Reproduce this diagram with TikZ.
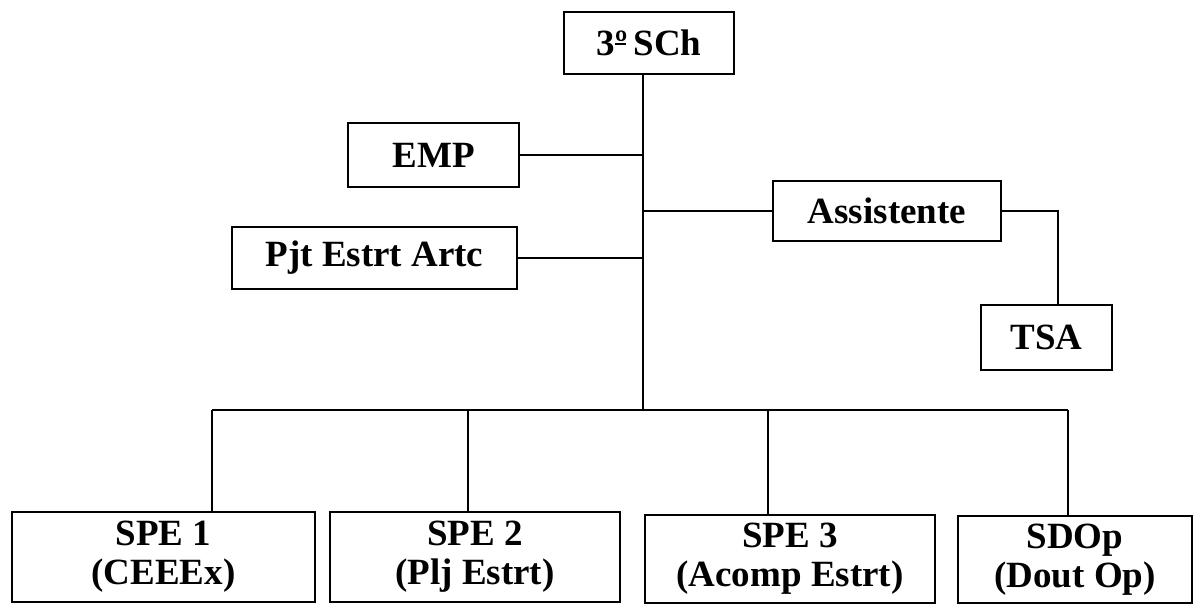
\documentclass[tikz,border=0pt]{standalone}
\usepackage{fontspec}
\setmainfont{Liberation Serif}
\newcommand{\ordbar}{\rlap{\raisebox{0.3em}{\rule{0.3em}{0.05em}}}º}
\begin{document}
\begin{tikzpicture}[x=1pt,y=-1pt,
  box/.style={draw,line width=2.2pt,rectangle,inner sep=0pt,align=center,
    font=\bfseries\fontsize{37}{39}\selectfont},
  conn/.style={line width=1.6pt}]
\useasboundingbox (0,0) rectangle (1201,612);
\node[box,minimum width=170,minimum height=62] (top) at (649,43) {3\ordbar\,SCh};
\node[box,minimum width=171,minimum height=64] (emp) at (433.5,155) {EMP};
\node[box,minimum width=285,minimum height=62] (pjt) at (374.5,258) {Pjt Estrt Artc};
\node[box,minimum width=228,minimum height=60] (asst) at (887,211) {Assistente};
\node[box,minimum width=131,minimum height=65] (tsa) at (1046.5,337.5) {TSA};
\node[box,minimum width=303,minimum height=90] (spe1) at (163.5,557) {SPE 1\\(CEEEx)};
\node[box,minimum width=290,minimum height=90] (spe2) at (475,557) {SPE 2\\(Plj Estrt)};
\node[box,minimum width=290,minimum height=88] (spe3) at (790,559) {SPE 3\\(Acomp Estrt)};
\node[box,minimum width=234,minimum height=87] (sdop) at (1075,559.5) {SDOp\\(Dout Op)};
\coordinate (tb) at (643,410);
\coordinate (b1) at (212,410);
\coordinate (b2) at (468,410);
\coordinate (b3) at (768,410);
\coordinate (b4) at (1068,410);
\draw[conn] ([xshift=-6pt]top.south) -- (tb);
\draw[conn] (emp.east) -- (emp.east -| tb);
\draw[conn] (pjt.east) -- (pjt.east -| tb);
\draw[conn] (asst.west) -- (asst.west -| tb);
\draw[conn] (asst.east) -| ([xshift=11.5pt]tsa.north);
\draw[conn] (b1) -- (b4);
\draw[conn] (b1) -- (b1 |- spe1.north);
\draw[conn] (b2) -- (b2 |- spe2.north);
\draw[conn] (b3) -- (b3 |- spe3.north);
\draw[conn] (b4) -- (b4 |- sdop.north);
\end{tikzpicture}
\end{document}
